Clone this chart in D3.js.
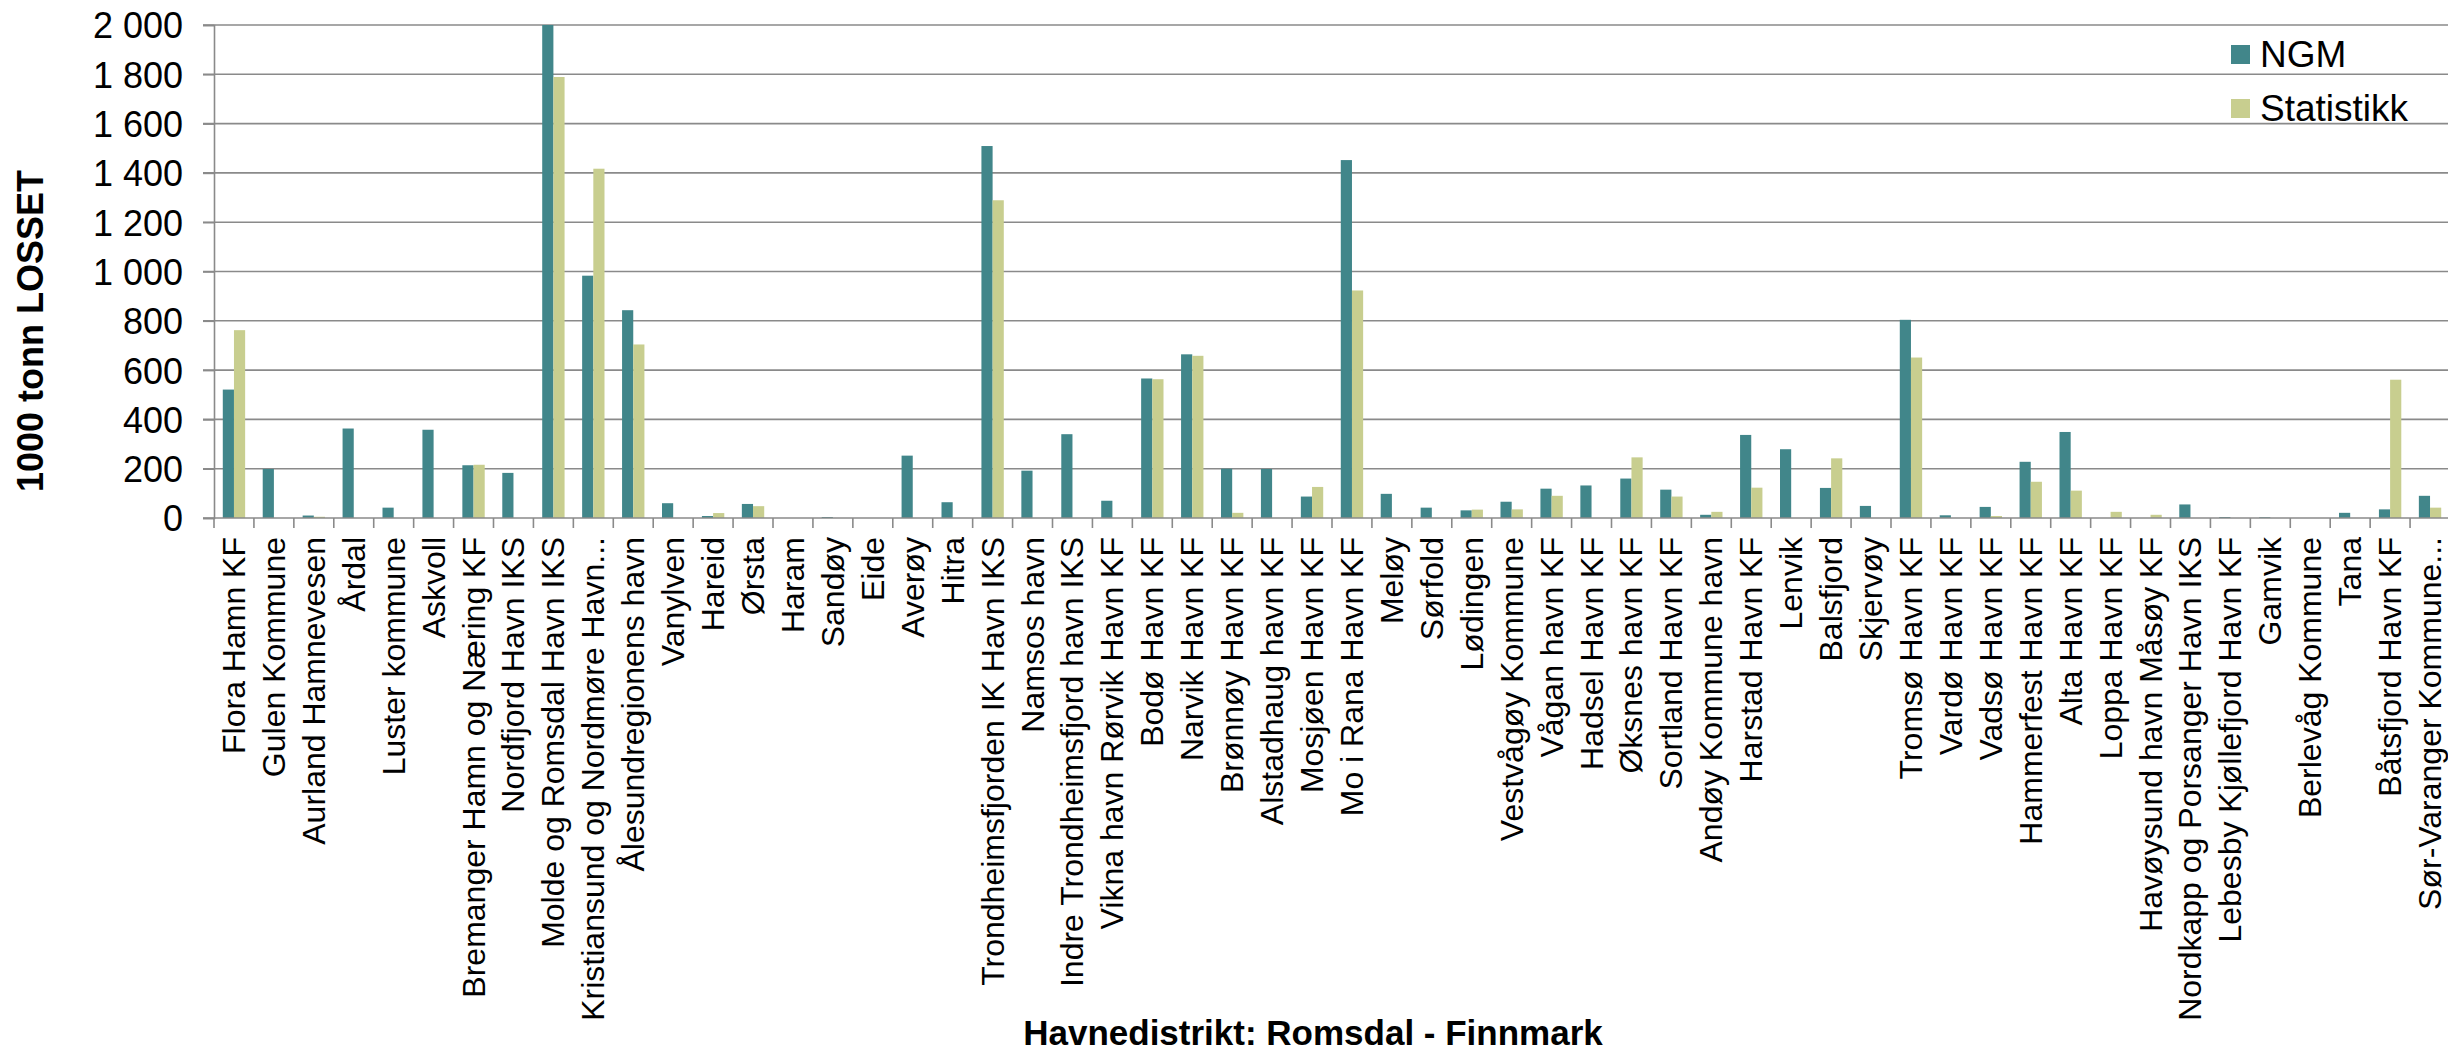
<!DOCTYPE html>
<html>
<head>
<meta charset="utf-8">
<script src="https://cdn.jsdelivr.net/npm/d3@7"></script>
<style>
  html, body { margin: 0; padding: 0; background: #fff; }
  svg { display: block; font-family: "Liberation Sans", Arial, sans-serif; }
</style>
</head>
<body>
<svg id="chart" width="2448" height="1055"></svg>
<script>
const categories = [
  "Flora Hamn KF", "Gulen Kommune", "Aurland Hamnevesen", "Årdal", "Luster kommune",
  "Askvoll", "Bremanger Hamn og Næring KF", "Nordfjord Havn IKS", "Molde og Romsdal Havn IKS",
  "Kristiansund og Nordmøre Havn...", "Ålesundregionens havn", "Vanylven", "Hareid", "Ørsta",
  "Haram", "Sandøy", "Eide", "Averøy", "Hitra", "Trondheimsfjorden IK Havn IKS", "Namsos havn",
  "Indre Trondheimsfjord havn IKS", "Vikna havn Rørvik Havn KF", "Bodø Havn KF", "Narvik Havn KF",
  "Brønnøy Havn KF", "Alstadhaug havn KF", "Mosjøen Havn KF", "Mo i Rana Havn KF", "Meløy",
  "Sørfold", "Lødingen", "Vestvågøy Kommune", "Vågan havn KF", "Hadsel Havn KF", "Øksnes havn KF",
  "Sortland Havn KF", "Andøy Kommune havn", "Harstad Havn KF", "Lenvik", "Balsfjord", "Skjervøy",
  "Tromsø Havn KF", "Vardø Havn KF", "Vadsø Havn KF", "Hammerfest Havn KF", "Alta Havn KF",
  "Loppa Havn KF", "Havøysund havn Måsøy KF", "Nordkapp og Porsanger Havn IKS",
  "Lebesby Kjøllefjord Havn KF", "Gamvik", "Berlevåg Kommune", "Tana", "Båtsfjord Havn KF",
  "Sør-Varanger Kommune..."
];
const ngmValues = [
  521, 199, 10, 363, 42, 358, 214, 183, 2000, 983, 843, 60, 8, 57,
  0, 4, 0, 253, 64, 1509, 192, 340, 70, 566, 664,
  200, 199, 87, 1452, 98, 42, 31, 66, 119, 132, 160,
  115, 13, 337, 279, 122, 49, 804, 11, 45, 228, 349,
  0, 0, 55, 4, 3, 0, 21, 35, 90
];
const statValues = [
  762, 0, 5, 0, 0, 0, 216, 0, 1789, 1417, 704, 0, 20, 48,
  0, 0, 0, 0, 0, 1289, 0, 0, 0, 563, 658,
  21, 0, 126, 923, 0, 0, 34, 35, 90, 0, 246,
  87, 25, 123, 0, 242, 0, 651, 0, 8, 147, 111,
  25, 13, 0, 0, 0, 0, 0, 561, 42
];
const seriesNames = ["NGM", "Statistikk"];
const yTicks = [0, 200, 400, 600, 800, 1000, 1200, 1400, 1600, 1800, 2000];
const yTickLabels = ["0", "200", "400", "600", "800", "1 000", "1 200", "1 400", "1 600", "1 800", "2 000"];
const yTitle = "1000 tonn LOSSET";
const xTitle = "Havnedistrikt: Romsdal - Finnmark";

const colors = { "NGM": "#41868A", "Statistikk": "#C8CE8F" };
const gridColor = "#8A8A8A";

const svg = d3.select("#chart");
const W = 2448;
const plot = { left: 214, right: 2450, top: 25, bottom: 518 };

const x = d3.scaleBand().domain(categories).range([plot.left, plot.right]).paddingInner(0).paddingOuter(0);
const xSub = d3.scaleBand().domain(seriesNames)
  .range([x.bandwidth() * 0.22, x.bandwidth() * 0.78]).padding(0);
const y = d3.scaleLinear().domain([0, 2000]).range([plot.bottom, plot.top]);

// gridlines
svg.append("g").selectAll("line").data(yTicks.filter(d => d > 0)).join("line")
  .attr("x1", plot.left - 11).attr("x2", W)
  .attr("y1", d => y(d)).attr("y2", d => y(d))
  .attr("stroke", gridColor).attr("stroke-width", 1.6);

// bars
const table = categories.map((c, i) => ({ cat: c, vals: [
  { key: "NGM", v: ngmValues[i] }, { key: "Statistikk", v: statValues[i] }
]}));
const groups = svg.append("g").selectAll("g").data(table).join("g")
  .attr("transform", d => `translate(${x(d.cat)},0)`);
groups.selectAll("rect").data(d => d.vals.filter(e => e.v > 0)).join("rect")
  .attr("x", d => xSub(d.key))
  .attr("width", xSub.bandwidth())
  .attr("y", d => y(d.v))
  .attr("height", d => y(0) - y(d.v))
  .attr("fill", d => colors[d.key]);

// y axis
const yAxis = d3.axisLeft(y).tickValues(yTicks).tickSize(11).tickFormat((d, i) => yTickLabels[i]);
const gy = svg.append("g").attr("transform", `translate(${plot.left},0)`).call(yAxis);
gy.select(".domain").attr("stroke", gridColor).attr("stroke-width", 1.6);
gy.selectAll(".tick line").attr("stroke", gridColor).attr("stroke-width", 1.6);
gy.selectAll(".tick text").attr("font-size", 36).attr("fill", "#000")
  .attr("font-family", "'Liberation Sans', Arial, sans-serif")
  .attr("x", -31).attr("dy", "0.36em");

// x axis
const xAxis = d3.axisBottom(x).tickSize(0).tickFormat(d => d);
const gx = svg.append("g").attr("transform", `translate(0,${plot.bottom})`).call(xAxis);
gx.select(".domain").attr("stroke", gridColor).attr("stroke-width", 1.6).attr("d", `M${plot.left - 11},0H${W}`);
gx.selectAll(".tick text")
  .attr("font-size", 32).attr("fill", "#000")
  .attr("font-family", "'Liberation Sans', Arial, sans-serif")
  .attr("text-anchor", "end")
  .attr("y", 0).attr("dy", 0)
  .attr("transform", "translate(11,19) rotate(-90)");
// category boundary ticks
svg.append("g").selectAll("line").data(categories.map((c, i) => i)).join("line")
  .attr("x1", i => x(categories[i])).attr("x2", i => x(categories[i]))
  .attr("y1", plot.bottom).attr("y2", plot.bottom + 10)
  .attr("stroke", gridColor).attr("stroke-width", 1.6);

// axis titles
svg.append("text").text(yTitle)
  .attr("transform", `translate(43,331) rotate(-90)`)
  .attr("text-anchor", "middle").attr("font-size", 36).attr("font-weight", "bold");
svg.append("text").text(xTitle)
  .attr("x", 1313).attr("y", 1045)
  .attr("text-anchor", "middle").attr("font-size", 35).attr("font-weight", "bold");

// legend
const legend = svg.append("g");
seriesNames.forEach((s, i) => {
  const ly = 54 + i * 54;
  legend.append("rect").attr("x", 2231).attr("y", ly - 9).attr("width", 19).attr("height", 19).attr("fill", colors[s]);
  legend.append("text").text(s).attr("x", 2260).attr("y", ly).attr("dy", "0.36em")
    .attr("font-size", 37).attr("fill", "#000");
});
</script>
</body>
</html>
